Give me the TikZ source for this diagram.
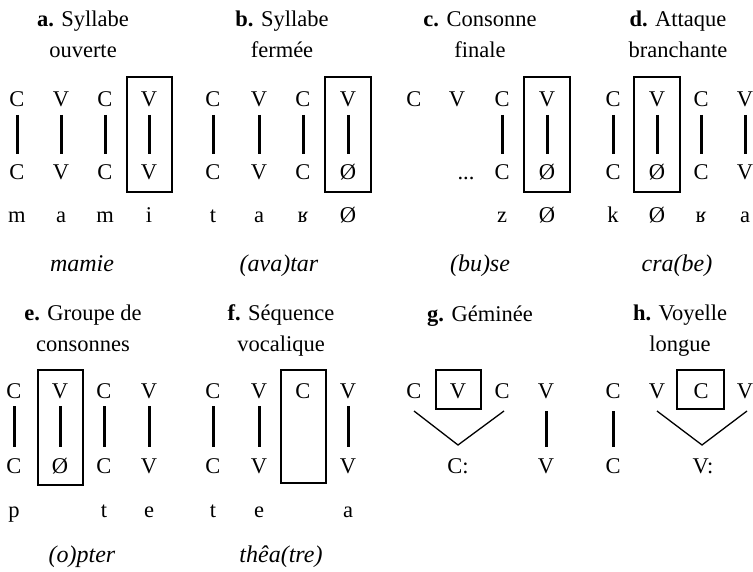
\documentclass[tikz,border=0pt]{standalone}
\usepackage{fontspec}
\setmainfont{Liberation Serif}
\newcommand\cvcol[7]{%
  \node[sym] (#1t) at (#2,#3) {#5};
  \node[sym] (#1b) at (#2,#4) {#6};
  \draw[bar] ([yshift=-#7]#1t.base) -- ([yshift=26pt]#1b.base);}
\begin{document}
\begin{tikzpicture}[x=1pt,y=-1pt,
  every node/.style={inner sep=0pt,font=\fontsize{22.5}{26}\selectfont},
  sym/.style={anchor=base},
  ttl/.style={anchor=base,font=\fontsize{22.5}{26}\selectfont},
  ex/.style={anchor=base,font=\fontsize{24}{28}\selectfont\itshape},
  bar/.style={line width=3pt},
  box/.style={line width=2.6pt},
  link/.style={line width=1.3pt}]
\useasboundingbox (0,0) rectangle (753,572);
% ---------- a ----------
\node[ttl] (ta1) at (83,27) {\textbf{a.} Syllabe};
\node[ttl] (ta2) at (83,58) {ouverte};
\cvcol{a1}{17}{107}{180}{C}{C}{8pt}
\cvcol{a2}{61}{107}{180}{V}{V}{8pt}
\cvcol{a3}{105}{107}{180}{C}{C}{8pt}
\cvcol{a4}{149}{107}{180}{V}{V}{8pt}
\node[sym] (al1) at (17,223) {m};
\node[sym] (al2) at (61,223) {a};
\node[sym] (al3) at (105,223) {m};
\node[sym] (al4) at (149,223) {i};
\node[ex] (wa) at (82,272) {mamie};
\draw[box] (127,77) rectangle (172,192);
% ---------- b ----------
\node[ttl] (tb1) at (282,27) {\textbf{b.} Syllabe};
\node[ttl] (tb2) at (282,58) {fermée};
\cvcol{b1}{213}{107}{180}{C}{C}{8pt}
\cvcol{b2}{259}{107}{180}{V}{V}{8pt}
\cvcol{b3}{303}{107}{180}{C}{C}{8pt}
\cvcol{b4}{348}{107}{180}{V}{Ø}{8pt}
\node[sym] (bl1) at (213,223) {t};
\node[sym] (bl2) at (259,223) {a};
\node[sym] (bl3) at (303,223) {ʁ};
\node[sym] (bl4) at (348,223) {Ø};
\node[ex] (wb) at (279,272) {(ava)tar};
\draw[box] (325,77) rectangle (371,192);
% ---------- c ----------
\node[ttl] (tc1) at (480,27) {\textbf{c.} Consonne};
\node[ttl] (tc2) at (480,58) {finale};
\node[sym] (c1t) at (414,107) {C};
\node[sym] (c2t) at (457,107) {V};
\cvcol{c3}{502}{107}{180}{C}{C}{8pt}
\cvcol{c4}{547}{107}{180}{V}{Ø}{8pt}
\node[sym] (cdots) at (466,180) {...};
\node[sym] (cl3) at (502,223) {z};
\node[sym] (cl4) at (547,223) {Ø};
\node[ex] (wc) at (480,272) {(bu)se};
\draw[box] (524,77) rectangle (570,192);
% ---------- d ----------
\node[ttl] (td1) at (678,27) {\textbf{d.} Attaque};
\node[ttl] (td2) at (678,58) {branchante};
\cvcol{d1}{613}{107}{180}{C}{C}{8pt}
\cvcol{d2}{657}{107}{180}{V}{Ø}{8pt}
\cvcol{d3}{701}{107}{180}{C}{C}{8pt}
\cvcol{d4}{745}{107}{180}{V}{V}{8pt}
\node[sym] (dl1) at (613,223) {k};
\node[sym] (dl2) at (657,223) {Ø};
\node[sym] (dl3) at (701,223) {ʁ};
\node[sym] (dl4) at (745,223) {a};
\node[ex] (wd) at (677,272) {cra(be)};
\draw[box] (634,77) rectangle (680,192);
% ---------- e ----------
\node[ttl] (te1) at (83,320) {\textbf{e.} Groupe de};
\node[ttl] (te2) at (83,352) {consonnes};
\cvcol{e1}{14}{398}{473}{C}{C}{8pt}
\cvcol{e2}{60}{398}{473}{V}{Ø}{8pt}
\cvcol{e3}{104}{398}{473}{C}{C}{8pt}
\cvcol{e4}{149}{398}{473}{V}{V}{8pt}
\node[sym] (el1) at (14,517) {p};
\node[sym] (el3) at (104,517) {t};
\node[sym] (el4) at (149,517) {e};
\node[ex] (we) at (82,562) {(o)pter};
\draw[box] (38,370) rectangle (83,485);
% ---------- f ----------
\node[ttl] (tf1) at (281,320) {\textbf{f.} Séquence};
\node[ttl] (tf2) at (281,352) {vocalique};
\cvcol{f1}{213}{398}{473}{C}{C}{8pt}
\cvcol{f2}{259}{398}{473}{V}{V}{8pt}
\node[sym] (f3t) at (303,398) {C};
\cvcol{f4}{348}{398}{473}{V}{V}{8pt}
\node[sym] (fl1) at (213,517) {t};
\node[sym] (fl2) at (259,517) {e};
\node[sym] (fl4) at (348,517) {a};
\node[ex] (wf) at (281,562) {thêa(tre)};
\draw[box] (281,370) rectangle (326,483);
% ---------- g ----------
\node[ttl] (tg1) at (480,322) {\textbf{g.} Géminée};
\node[sym] (g1t) at (414,398) {C};
\node[sym] (g2t) at (458,398) {V};
\node[sym] (g3t) at (502,398) {C};
\cvcol{g4}{546}{398}{473}{V}{V}{13pt}
\node[sym] (gg) at (458,473) {C:};
\coordinate (gj) at (458,445);
\draw[link] ([yshift=-13pt]g1t.base) -- (gj) -- ([yshift=-13pt,xshift=2pt]g3t.base);
\draw[box] (436,370) rectangle (481,409);
% ---------- h ----------
\node[ttl] (th1) at (680,320) {\textbf{h.} Voyelle};
\node[ttl] (th2) at (680,352) {longue};
\cvcol{h1}{613}{398}{473}{C}{C}{13pt}
\node[sym] (h2t) at (657,398) {V};
\node[sym] (h3t) at (701,398) {C};
\node[sym] (h4t) at (745,398) {V};
\node[sym] (hv) at (703,473) {V:};
\coordinate (hj) at (702,445);
\draw[link] ([yshift=-13pt]h2t.base) -- (hj) -- ([yshift=-13pt,xshift=2pt]h4t.base);
\draw[box] (677,370) rectangle (724,409);
\end{tikzpicture}
\end{document}
